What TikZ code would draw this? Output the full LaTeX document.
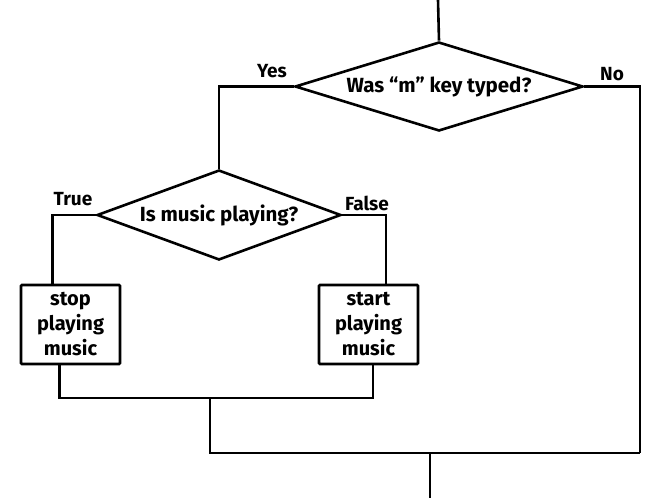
\documentclass[tikz,border=0pt]{standalone}
\usepackage{fontspec}
\setmainfont{Fira Sans}
\usetikzlibrary{shapes.geometric}
\tikzset{
  decision/.style={draw, diamond, inner sep=0pt, font=\bfseries\fontsize{20.5}{20.5}\selectfont},
  action/.style={draw, rounded corners=1pt, minimum width=99pt, minimum height=79pt, align=center, inner sep=0pt,
    font=\bfseries\fontsize{20}{25}\selectfont},
  branch/.style={font=\bfseries\fontsize{19}{19}\selectfont}
}
\begin{document}
\begin{tikzpicture}[x=1pt, y=-1pt, line width=2.6pt]
\useasboundingbox (0, 0) rectangle (671, 498);
\node[decision, aspect=3.24, minimum width=288pt, minimum height=89pt] (typed) at (439, 86.5) {Was “m” key typed?};
\node[decision, aspect=2.71, minimum width=244pt, minimum height=90pt] (playing) at (219, 215) {Is music playing?};
\node[action] (stop) at (70.5, 324.5) {stop\\playing\\music};
\node[action] (start) at (368.5, 324.5) {start\\playing\\music};
\path (438, 0) coordinate (in);
\path (210, 398) coordinate (join) (640, 453) coordinate (merge) (430, 453) coordinate (exit);
\draw (in) -- (typed.north);
\draw (typed.west) -| (playing.north);
\draw (typed.east) -| (merge);
\draw (playing.west) -| ([xshift=-18pt]stop.north);
\draw (playing.east) -| ([xshift=17.5pt]start.north);
\draw ([xshift=-11pt]stop.south) |- (join) -| ([xshift=4.5pt]start.south);
\draw (join) |- (merge);
\draw (exit) -- ++(0, 45);
\node[branch] (yes) at (272, 71) {Yes};
\node[branch] (no) at (612, 74) {No};
\node[branch] (true) at (73, 199) {True};
\node[branch] (false) at (367, 203) {False};
\end{tikzpicture}
\end{document}
